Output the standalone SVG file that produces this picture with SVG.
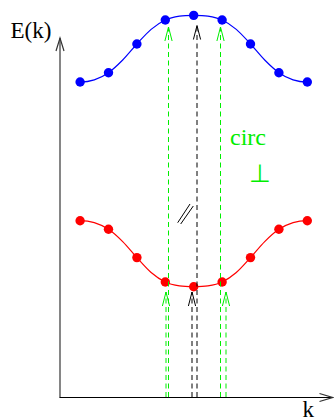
<svg xmlns="http://www.w3.org/2000/svg" width="334" height="418" viewBox="0 0 334 418">
<style>
.t{font-family:"Liberation Serif","Times New Roman",serif;}
.blue{fill:none;stroke:#0000ff;stroke-width:1.2}
.red{fill:none;stroke:#ff0000;stroke-width:1.2}
.bd{fill:#0000ff}
.rd{fill:#ff0000}
.dg{fill:none;stroke:#00ee00;stroke-width:1;stroke-dasharray:5 3.5}
.dk{fill:none;stroke:#000;stroke-width:1;stroke-dasharray:5 3.5}
</style>
<defs>
<marker id="ag" markerUnits="userSpaceOnUse" orient="auto" markerWidth="20" markerHeight="12" refX="0" refY="0" viewBox="-16 -6 20 12" overflow="visible">
<path d="M-14,-3.6 L0,0 L-14,3.6" fill="none" stroke="#00ee00" stroke-width="1"/>
</marker>
<marker id="ak" markerUnits="userSpaceOnUse" orient="auto" markerWidth="20" markerHeight="12" refX="0" refY="0" viewBox="-16 -6 20 12" overflow="visible">
<path d="M-14,-3.6 L0,0 L-14,3.6" fill="none" stroke="#000" stroke-width="1"/>
</marker>
<marker id="ax" markerUnits="userSpaceOnUse" orient="auto" markerWidth="20" markerHeight="12" refX="0" refY="0" viewBox="-16 -6 20 12" overflow="visible">
<path d="M-13,-4 L0,0 L-13,4" fill="none" stroke="#333" stroke-width="1.2"/>
</marker>
</defs>
<g id="axes">
<line x1="60" y1="397.5" x2="60" y2="38" stroke="#444" stroke-width="1.3" marker-end="url(#ax)"/>
<line x1="59.5" y1="397.5" x2="332.5" y2="397.5" stroke="#000" stroke-width="1" marker-end="url(#ax)"/>
</g>
<g id="upper-band">
<path class="blue" d="M80.1,82.03 C84.83,82.03 89.57,81.43 94.3,79.87 C99.03,78.32 103.77,76.01 108.5,72.7 C113.23,69.39 117.97,64.8 122.7,60.02 C127.43,55.24 132.17,49.11 136.9,44 C141.63,38.89 146.37,33.36 151.1,29.36 C155.83,25.36 160.57,22.2 165.3,20 C170.03,17.8 174.77,16.93 179.5,16.16 C184.23,15.39 188.97,15.37 193.7,15.37 C198.43,15.37 203.17,15.39 207.9,16.16 C212.63,16.93 217.37,17.8 222.1,20 C226.83,22.2 231.57,25.36 236.3,29.36 C241.03,33.36 245.77,38.89 250.5,44 C255.23,49.11 259.97,55.24 264.7,60.02 C269.43,64.8 274.17,69.39 278.9,72.7 C283.63,76.01 288.37,78.32 293.1,79.87 C297.83,81.43 302.57,82.03 307.3,82.03"/>
<circle class="bd" cx="80.1" cy="82.03" r="4.7"/>
<circle class="bd" cx="108.5" cy="72.7" r="4.7"/>
<circle class="bd" cx="136.9" cy="44" r="4.7"/>
<circle class="bd" cx="165.3" cy="20" r="4.7"/>
<circle class="bd" cx="193.7" cy="15.37" r="4.7"/>
<circle class="bd" cx="222.1" cy="20" r="4.7"/>
<circle class="bd" cx="250.5" cy="44" r="4.7"/>
<circle class="bd" cx="278.9" cy="72.7" r="4.7"/>
<circle class="bd" cx="307.3" cy="82.03" r="4.7"/>
</g>
<g id="lower-band">
<path class="red" d="M80.1,220.7 C84.83,220.7 89.57,221.19 94.3,222.62 C99.03,224.05 103.77,226.13 108.5,229.29 C113.23,232.45 117.97,236.88 122.7,241.6 C127.43,246.32 132.17,252.46 136.9,257.6 C141.63,262.74 146.37,268.39 151.1,272.46 C155.83,276.53 160.57,279.77 165.3,282.01 C170.03,284.25 174.77,285.14 179.5,285.92 C184.23,286.7 188.97,286.7 193.7,286.7 C198.43,286.7 203.17,286.7 207.9,285.92 C212.63,285.14 217.37,284.25 222.1,282.01 C226.83,279.77 231.57,276.53 236.3,272.46 C241.03,268.39 245.77,262.74 250.5,257.6 C255.23,252.46 259.97,246.32 264.7,241.6 C269.43,236.88 274.17,232.45 278.9,229.29 C283.63,226.13 288.37,224.05 293.1,222.62 C297.83,221.19 302.57,220.7 307.3,220.7"/>
<circle class="rd" cx="80.1" cy="220.7" r="4.7"/>
<circle class="rd" cx="108.5" cy="229.29" r="4.7"/>
<circle class="rd" cx="136.9" cy="257.6" r="4.7"/>
<circle class="rd" cx="165.3" cy="282.01" r="4.7"/>
<circle class="rd" cx="193.7" cy="286.7" r="4.7"/>
<circle class="rd" cx="222.1" cy="282.01" r="4.7"/>
<circle class="rd" cx="250.5" cy="257.6" r="4.7"/>
<circle class="rd" cx="278.9" cy="229.29" r="4.7"/>
<circle class="rd" cx="307.3" cy="220.7" r="4.7"/>
</g>
<g id="connectors">
<line class="dg" x1="168.5" y1="397" x2="168.5" y2="27" marker-end="url(#ag)"/>
<line class="dg" x1="166" y1="397" x2="166" y2="292" marker-end="url(#ag)"/>
<line class="dk" x1="197" y1="397" x2="197" y2="25.5" marker-end="url(#ak)"/>
<line class="dk" x1="192" y1="397" x2="192" y2="292" marker-end="url(#ak)"/>
<line class="dg" x1="220.5" y1="397" x2="220.5" y2="27" marker-end="url(#ag)"/>
<line class="dg" x1="226" y1="397" x2="226" y2="292" marker-end="url(#ag)"/>
</g>
<g id="labels">
<text class="t" x="10.5" y="37.5" font-size="23" fill="#000">E(k)</text>
<text class="t" x="302.5" y="416.5" font-size="23" fill="#000">k</text>
<text class="t" x="230" y="145" font-size="24" fill="#00ee00">circ</text>
<text x="259.5" y="182" font-size="25" font-weight="200" text-anchor="middle" fill="#00ee00" font-family="'DejaVu Sans',sans-serif">⊥</text>
<g id="parallel-mark" stroke="#000" stroke-width="1">
<line x1="177.7" y1="222.7" x2="190" y2="204"/>
<line x1="180.7" y1="224" x2="193.3" y2="206"/>
</g>
</g>
</svg>
